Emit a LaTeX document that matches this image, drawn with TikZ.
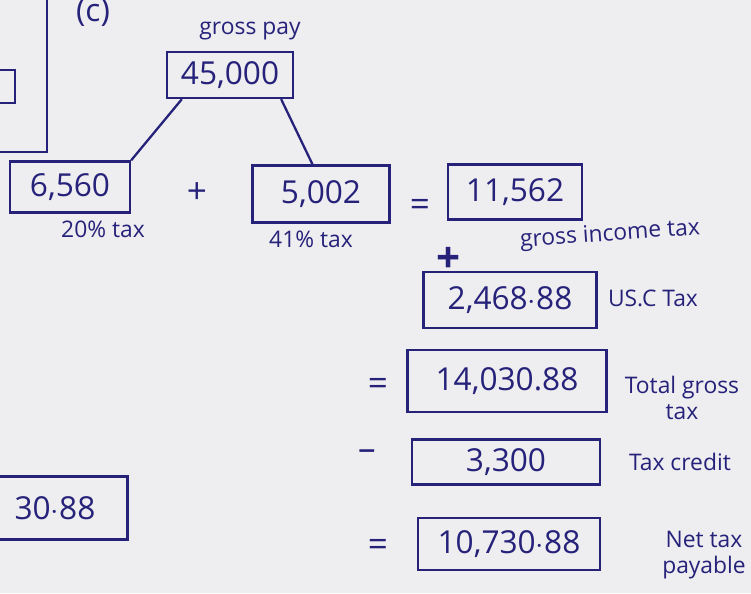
\documentclass[tikz,border=0pt]{standalone}
\usepackage{fontspec}
\setmainfont{Open Sans}
\usepackage{tikz}
\usetikzlibrary{positioning}
\usepackage{xcolor}
\definecolor{ink}{RGB}{38,34,122}
\definecolor{paper}{RGB}{238,237,240}

\begin{document}
\begin{tikzpicture}[x=0.02cm, y=-0.02cm,
  sum/.style={rectangle, draw=ink, line width=1.3pt, text=ink,
              font=\fontsize{18}{21}\selectfont},
  note/.style={text=ink, font=\fontsize{13}{15}\selectfont, inner sep=1pt,
               align=center},
  op/.style={text=ink, font=\fontsize{20}{22}\selectfont, inner sep=1pt},
  pen/.style={draw=ink, line width=1.3pt}
]
% paper
\useasboundingbox (0,0) rectangle (751,593);
\clip (0,0) rectangle (751,593);
\fill[paper] (0,0) rectangle (751,593);
% edge of the previous part
\draw[pen] (47,-5) -- (47,152) -- (-5,152);
\draw[pen] (-5,70) -- (15,70) -- (15,103) -- (-5,103);
\node[note, font=\fontsize{18}{20}\selectfont] (part) at (93,13) {(c)};
% gross pay split
\node[sum, minimum width=2.52cm, minimum height=0.92cm] (pay) at (230,75) {45,000};
\node[note] (paylbl) at (250,31) {gross pay};
\node[sum, minimum width=2.4cm, minimum height=1.02cm] (low) at (70,187) {6,560};
\node[note] (lowlbl) at (103,229) {20\% tax};
\node[sum, minimum width=2.74cm, minimum height=1.14cm] (high) at (321,194) {5,002};
\node[note] (highlbl) at (311,239) {41\% tax};
\draw[pen] ([xshift=0.32cm]pay.south west) -- (low.north east);
\draw[pen] ([xshift=-0.26cm]pay.south east) -- ([xshift=-0.17cm]high.north);
\node[op] (plus1) at (197,193) {+};
% income tax
\node[op] (eq1) at (420,208) {=};
\node[sum, minimum width=2.68cm, minimum height=1.1cm] (git) at (515,192) {11,562};
\node[note, rotate=4] (gitlbl) at (610,235) {gross income tax};
\node[op, font=\bfseries\fontsize{24}{26}\selectfont] (plus2) at (449,260) {+};
\node[sum, minimum width=3.46cm, minimum height=1.12cm] (usc) at (510,300) {2,468$\cdot$88};
\node[note] (usclbl) at (653,298) {US.C Tax};
% total
\node[op] (eq2) at (378,387) {=};
\node[sum, minimum width=3.98cm, minimum height=1.24cm] (total) at (507,381) {14,030.88};
\node[note] (totallbl) at (682,398) {Total gross\\tax};
\node[op] (minus) at (367,455) {--};
\node[sum, minimum width=3.76cm, minimum height=0.9cm] (credit) at (506,462) {3,300};
\node[note] (creditlbl) at (680,462) {Tax credit};
\node[op] (eq3) at (378,548) {=};
\node[sum, minimum width=3.64cm, minimum height=1.04cm] (net) at (509,544) {10,730$\cdot$88};
\node[note] (netlbl) at (704,555) {Net tax\\payable};
% carried over box
\node[sum, minimum width=2.9cm, minimum height=1.26cm] (carry) at (55,508) {30$\cdot$88};
\end{tikzpicture}
\end{document}
